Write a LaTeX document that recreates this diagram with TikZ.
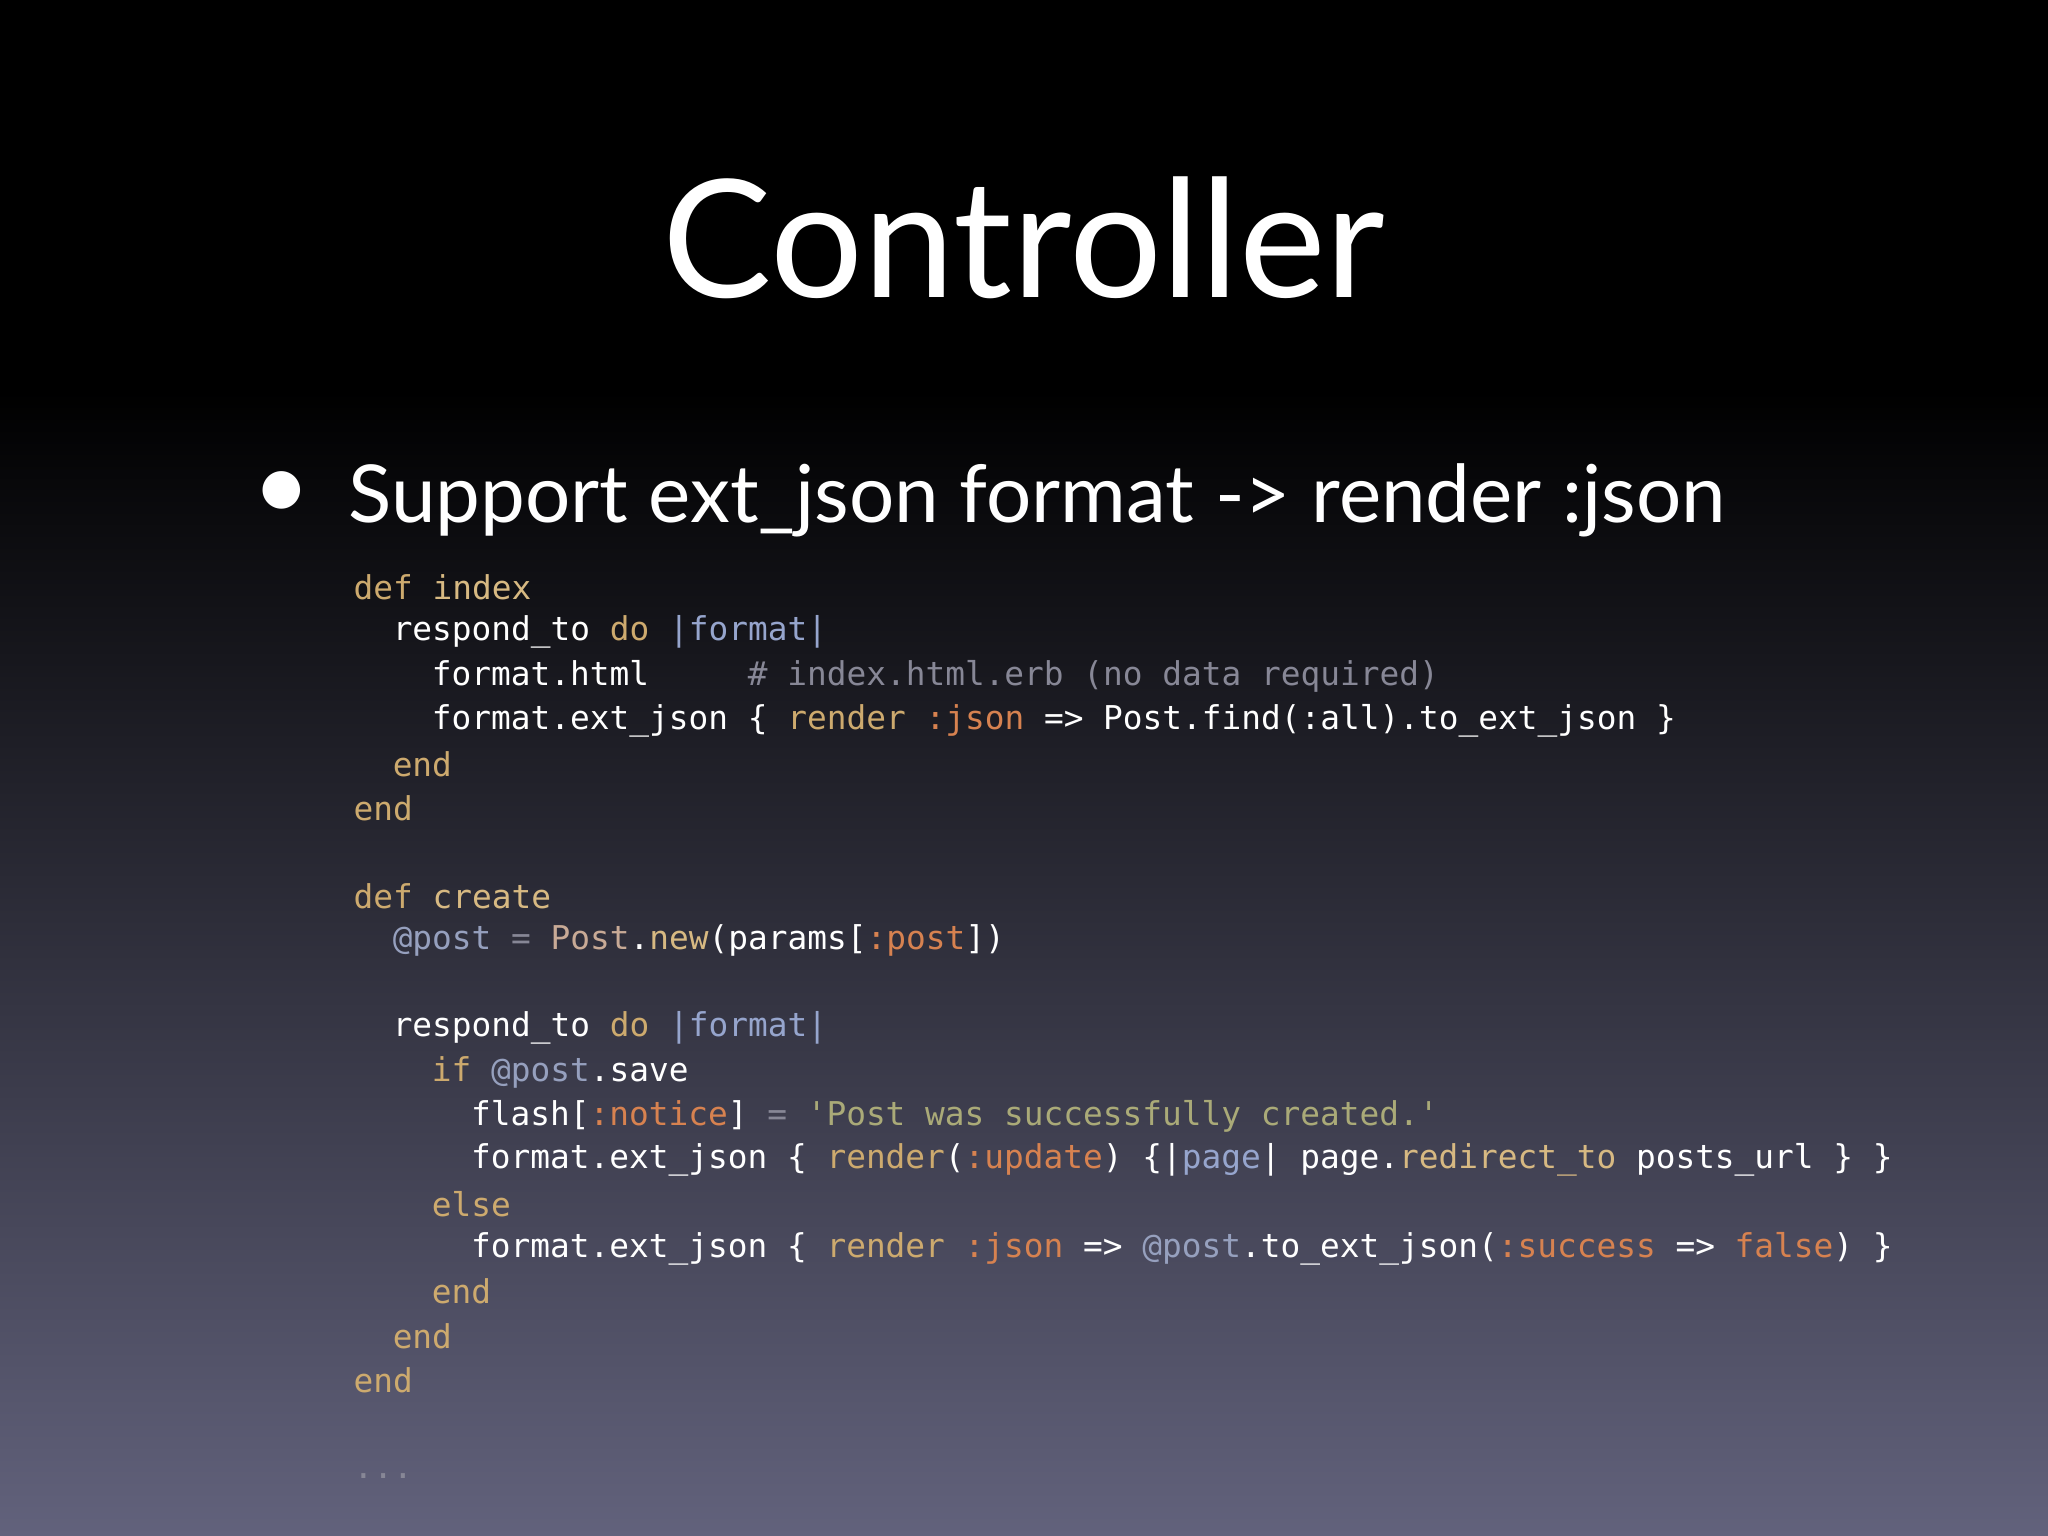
\documentclass[tikz,border=0pt]{standalone}
\usepackage{fontspec}
\setmainfont{Lato}
\setmonofont{DejaVu Sans Mono}
\definecolor{bgbot}{RGB}{98,98,124}
\definecolor{kwc}{RGB}{205,170,110}
\definecolor{mnc}{RGB}{215,185,130}
\definecolor{blk}{RGB}{150,165,205}
\definecolor{cmc}{RGB}{135,135,150}
\definecolor{syc}{RGB}{215,130,80}
\definecolor{stc}{RGB}{170,170,120}
\definecolor{ivc}{RGB}{150,160,190}
\definecolor{clc}{RGB}{200,170,150}
\newcommand{\K}[1]{\textcolor{kwc}{#1}}
\newcommand{\M}[1]{\textcolor{mnc}{#1}}
\newcommand{\B}[1]{\textcolor{blk}{#1}}
\newcommand{\Cm}[1]{\textcolor{cmc}{#1}}
\newcommand{\Sy}[1]{\textcolor{syc}{#1}}
\newcommand{\St}[1]{\textcolor{stc}{#1}}
\newcommand{\Iv}[1]{\textcolor{ivc}{#1}}
\newcommand{\Cl}[1]{\textcolor{clc}{#1}}
\tikzset{code/.style={anchor=west,inner sep=0pt,text=white,font=\fontsize{7.14pt}{8pt}\ttfamily}}
\begin{document}
\begin{tikzpicture}[x=0.01cm,y=-0.01cm]
\fill[black] (0,0) rectangle (1568,300);
\shade[top color=black,bottom color=bgbot] (0,299) rectangle (1568,1176);
\useasboundingbox (0,0) rectangle (1568,1176);
\node[text=white,font=\fontsize{35.7pt}{40pt}\selectfont] (title) at (784,182) {Controller};
\node[text=white,font=\fontsize{22}{24}\selectfont] (bul) at (216,380) {\textbullet};
\node[text=white,anchor=west,inner sep=0pt,font=\fontsize{17.4pt}{20pt}\selectfont] (head) at (266,383) {Support ext\_json format -> render :json};
\node[code] (l1) at (270,450) {\K{def} \M{index}};
\node[code] (l2) at (300,484) {respond\_to \K{do} \B{|format|}};
\node[code] (l3) at (330,518) {format.html\ \ \ \ \ \Cm{\# index.html.erb (no data required)}};
\node[code] (l4) at (330,552) {format.ext\_json \{ \K{render} \Sy{:json} => Post.find(:all).to\_ext\_json \}};
\node[code] (l5) at (300,585) {\K{end}};
\node[code] (l6) at (270,619) {\K{end}};
\node[code] (l7) at (270,686) {\K{def} \M{create}};
\node[code] (l8) at (300,720) {\Iv{@post} \Cm{=} \Cl{Post}.\M{new}(params[\Sy{:post}])};
\node[code] (l9) at (300,787) {respond\_to \K{do} \B{|format|}};
\node[code] (l10) at (330,821) {\K{if} \Iv{@post}.save};
\node[code] (l11) at (360,855) {flash[\Sy{:notice}] \Cm{=} \St{'Post was successfully created.'}};
\node[code] (l12) at (360,888) {format.ext\_json \{ \K{render}(\Sy{:update}) \{|\B{page}| page.\M{redirect\_to} posts\_url \} \}};
\node[code] (l13) at (330,922) {\K{else}};
\node[code] (l14) at (360,956) {format.ext\_json \{ \K{render} \Sy{:json} => \Iv{@post}.to\_ext\_json(\Sy{:success} => \Sy{false}) \}};
\node[code] (l15) at (330,989) {\K{end}};
\node[code] (l16) at (300,1023) {\K{end}};
\node[code] (l17) at (270,1057) {\K{end}};
\node[code] (l18) at (270,1130) {\Cm{...}};
\end{tikzpicture}
\end{document}
